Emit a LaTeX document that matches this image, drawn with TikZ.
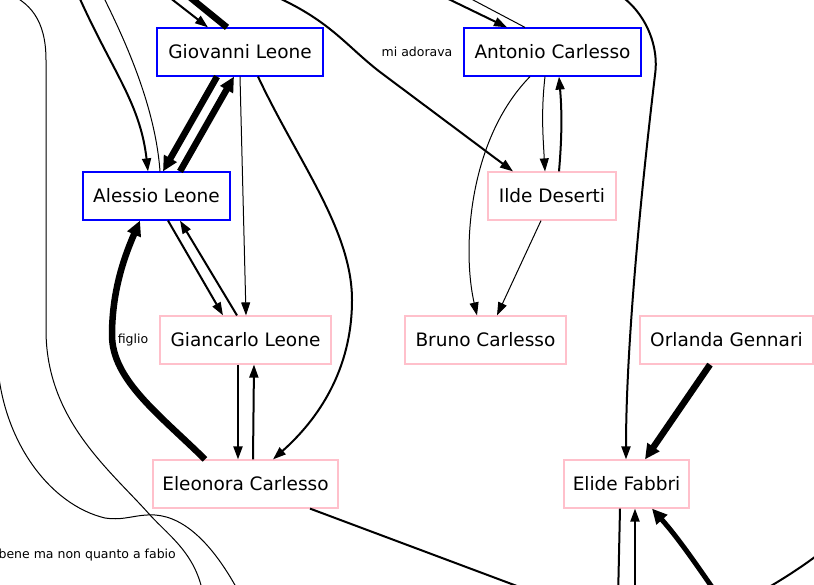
\documentclass[tikz,border=0pt]{standalone}
\usepackage{fontspec}
\setmainfont{DejaVu Sans}
\usetikzlibrary{arrows.meta,positioning,calc}
\definecolor{gvpink}{HTML}{FFC0CB}
\definecolor{gvblue}{HTML}{0000FF}

\begin{document}
\begin{tikzpicture}[
    x=1pt,
    y=-1pt,
    font=\fontsize{18.5}{22}\selectfont,
    bluebox/.style={
        draw=gvblue,
        line width=1.2pt,
        minimum height=48pt,
        inner sep=0pt
    },
    pinkbox/.style={
        draw=gvpink,
        line width=1.2pt,
        minimum height=48pt,
        inner sep=0pt
    },
    lbl/.style={font=\fontsize{12.5}{14}\selectfont, inner sep=0pt},
    arr/.style={-{Triangle[length=13pt,width=9pt]}},
    bigarr/.style={-{Triangle[length=15pt,width=14pt]}},
    thinline/.style={line width=1pt},
    medline/.style={line width=2pt},
    heavyline/.style={line width=6.5pt}
]

\useasboundingbox (0,0) rectangle (814,585);
\clip (0,0) rectangle (814,585);
\fill[white] (0,0) rectangle (814,585);

% first row
\node[bluebox, minimum width=166pt] (giovanni) at (240,52) {Giovanni Leone};
\node[bluebox, minimum width=177pt] (antonio) at (552.5,52) {Antonio Carlesso};

% second row
\node[bluebox, minimum width=147pt] (alessio) at (156.5,196) {Alessio Leone};
\node[pinkbox, minimum width=128pt] (ilde) at (552,196) {Ilde Deserti};

% third row
\node[pinkbox, minimum width=171pt] (giancarlo) at (245.5,340) {Giancarlo Leone};
\node[pinkbox, minimum width=161pt] (bruno) at (485.5,340) {Bruno Carlesso};
\node[pinkbox, minimum width=173pt] (orlanda) at (726.5,340) {Orlanda Gennari};

% fourth row
\node[pinkbox, minimum width=185pt] (eleonora) at (245.5,484) {Eleonora Carlesso};
\node[pinkbox, minimum width=125pt] (elide) at (626.5,484) {Elide Fabbri};

% loose ends outside the frame
\coordinate (topA) at (160,-10);
\coordinate (topB) at (181,-10);
\coordinate (topC) at (76,-10);
\coordinate (topD) at (100,-10);
\coordinate (topE) at (434,-8);
\coordinate (topF) at (458,-8);
\coordinate (topG) at (270,-6);
\coordinate (topH) at (611,-10);
\coordinate (topI) at (5,-8);
\coordinate (leftA) at (-3,355);
\coordinate (botA) at (541,595);
\coordinate (botB) at (618,600);
\coordinate (botC) at (635,600);
\coordinate (botD) at (721,600);
\coordinate (botE) at (204,600);
\coordinate (botF) at (243,600);
\coordinate (rightA) at (830,545);
\coordinate (botG) at (750,598);

% Giovanni
\draw[arr, medline] (topA) -- ([xshift=-32]giovanni.north);
\draw[heavyline] ([xshift=-13]giovanni.north) -- (topB);
\draw[bigarr, heavyline] ([xshift=-23]giovanni.south) -- ([xshift=6.5]alessio.north);
\draw[bigarr, heavyline] ([xshift=23.5]alessio.north) -- ([xshift=-6]giovanni.south);
\draw[arr, thinline] (giovanni.south) -- ([xshift=0.5]giancarlo.north);
\draw[arr, medline] ([xshift=18]giovanni.south)
    .. controls +(40,85) and +(0,-70) .. (352,300)
    .. controls +(0,70) and +(45,-40) .. ([xshift=27.5]eleonora.north);

% Alessio
\draw[arr, medline] (topC) .. controls +(35,80) and +(-8,-70) .. ([xshift=-8.5]alessio.north);
\draw[thinline] ([xshift=3.5]alessio.north) .. controls +(-5,-70) and +(20,40) .. (topD);
\draw[arr, medline] ([xshift=11.5]alessio.south) -- ([xshift=-22.5]giancarlo.north);
\draw[arr, medline] ([xshift=-8.5]giancarlo.north) -- ([xshift=23.5]alessio.south);
\draw[bigarr, heavyline] ([xshift=-40.5]eleonora.north)
    .. controls (160,415) and (112,380) .. (112,335)
    .. controls (112,290) and (125,255) .. ([xshift=-16.5]alessio.south);
\node[lbl] (figlio) at (133,340) {figlio};

% Giancarlo and Eleonora
\draw[arr, medline] ([xshift=-7.5]giancarlo.south) -- ([xshift=-7.5]eleonora.north);
\draw[arr, medline] ([xshift=7.5]eleonora.north) -- ([xshift=8.5]giancarlo.south);
\draw[medline] ([xshift=64.5]eleonora.south) -- (botA);

% Antonio and Ilde
\draw[arr, medline] (topE) -- ([xshift=-45.5]antonio.north);
\draw[thinline] ([xshift=-27.5]antonio.north) -- (topF);
\draw[arr, medline] (topG) .. controls (330,20) and (345,45) .. (380,72)
    -- ([xshift=-39]ilde.north);
\node[lbl] (adorava) at (417,52) {mi adorava};
\draw[arr, thinline] ([xshift=-7.5]antonio.south)
    .. controls +(-4,35) and +(-2,-35) .. ([xshift=-7]ilde.north);
\draw[arr, medline] ([xshift=7]ilde.north)
    .. controls +(3,-35) and +(3,35) .. ([xshift=6.5]antonio.south);
\draw[arr, thinline] ([xshift=-22.5]antonio.south)
    .. controls (468,140) and (462,250) .. ([xshift=-8.5]bruno.north);
\draw[arr, thinline] ([xshift=-11]ilde.south) -- ([xshift=11.5]bruno.north);

% Elide
\draw[arr, medline] (topH) .. controls (640,4) and (660,40) .. (655,75)
    .. controls (646,150) and (626,330) .. ([xshift=-0.5]elide.north);
\draw[bigarr, heavyline] ([xshift=-16.5]orlanda.south) -- ([xshift=18.5]elide.north);
\draw[medline] ([xshift=-6.5]elide.south) -- (botB);
\draw[arr, medline] (botC) -- ([xshift=8.5]elide.south);
\draw[bigarr, line width=5pt] (botD) .. controls (700,570) and (680,540) .. ([xshift=25.5]elide.south);
\draw[medline] (rightA) .. controls (805,566) and (775,584) .. (botG);

% long curves on the left
\draw[thinline] (topI) .. controls (30,2) and (46,20) .. (46,60) -- (46,330)
    .. controls (46,420) and (110,470) .. (150,515)
    .. controls (170,537) and (198,555) .. (botE);
\draw[thinline] (leftA) .. controls (0,440) and (50,505) .. (105,518)
    .. controls (125,521) and (135,514) .. (155,515)
    .. controls (185,517) and (215,545) .. (botF);
\node[lbl, anchor=east] (fabio) at (176,555) {bene ma non quanto a fabio};

\end{tikzpicture}
\end{document}
